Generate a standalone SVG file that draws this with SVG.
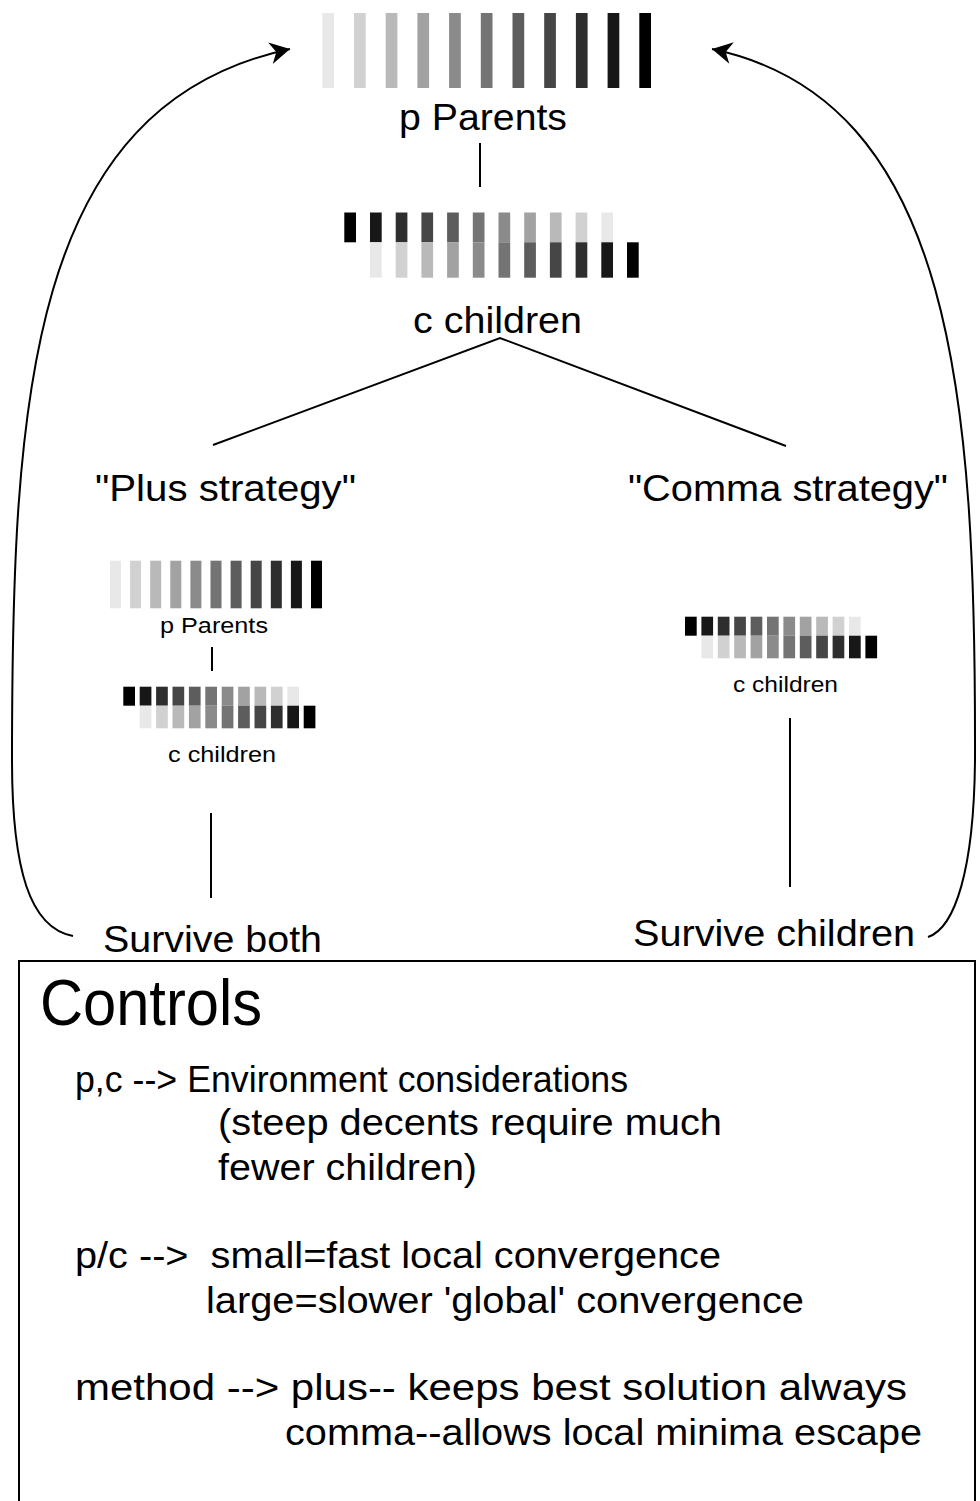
<svg xmlns="http://www.w3.org/2000/svg" width="980" height="1501" viewBox="0 0 980 1501">
  <style>
    text { font-family: "Liberation Sans", Arial, Helvetica, sans-serif; fill: #000; white-space: pre; }
    .big { font-size: 37px; }
    .small { font-size: 22px; }
    .title { font-size: 64px; }
    .body { font-size: 36px; }
    .line { stroke: #000; stroke-width: 2; fill: none; }
    .g0 { fill: #e8e8e8; } .g1 { fill: #d1d1d1; } .g2 { fill: #b9b9b9; } .g3 { fill: #a2a2a2; }
    .g4 { fill: #8b8b8b; } .g5 { fill: #747474; } .g6 { fill: #5d5d5d; } .g7 { fill: #464646; }
    .g8 { fill: #2e2e2e; } .g9 { fill: #171717; } .g10 { fill: #000000; }
  </style>
  <defs>
    <marker id="head" markerUnits="userSpaceOnUse" markerWidth="24" markerHeight="24" viewBox="-21 -12 23 24" refX="0" refY="0" orient="auto">
      <path d="M0,0 L-20,-11 L-14,0 L-20,11 Z" fill="#000"/>
    </marker>
  </defs>
  <rect width="980" height="1501" fill="#fff"/>

  <!-- parent population -->
  <g id="parents">
    <rect class="g0" x="322.3" y="13" width="11.7" height="75"/>
    <rect class="g1" x="354.0" y="13" width="11.7" height="75"/>
    <rect class="g2" x="385.7" y="13" width="11.7" height="75"/>
    <rect class="g3" x="417.4" y="13" width="11.7" height="75"/>
    <rect class="g4" x="449.1" y="13" width="11.7" height="75"/>
    <rect class="g5" x="480.8" y="13" width="11.7" height="75"/>
    <rect class="g6" x="512.5" y="13" width="11.7" height="75"/>
    <rect class="g7" x="544.2" y="13" width="11.7" height="75"/>
    <rect class="g8" x="575.9" y="13" width="11.7" height="75"/>
    <rect class="g9" x="607.6" y="13" width="11.7" height="75"/>
    <rect class="g10" x="639.3" y="13" width="11.7" height="75"/>
    <text class="big" x="399" y="130" textLength="168" lengthAdjust="spacingAndGlyphs">p Parents</text>
  </g>

  <!-- offspring population -->
  <g id="children">
    <rect class="g10" x="344.3" y="212.5" width="11.7" height="29.8"/>
    <rect class="g9" x="370.0" y="212.5" width="11.7" height="29.8"/>
    <rect class="g8" x="395.7" y="212.5" width="11.7" height="29.8"/>
    <rect class="g7" x="421.4" y="212.5" width="11.7" height="29.8"/>
    <rect class="g6" x="447.1" y="212.5" width="11.7" height="29.8"/>
    <rect class="g5" x="472.8" y="212.5" width="11.7" height="29.8"/>
    <rect class="g4" x="498.5" y="212.5" width="11.7" height="29.8"/>
    <rect class="g3" x="524.2" y="212.5" width="11.7" height="29.8"/>
    <rect class="g2" x="549.9" y="212.5" width="11.7" height="29.8"/>
    <rect class="g1" x="575.6" y="212.5" width="11.7" height="29.8"/>
    <rect class="g0" x="601.3" y="212.5" width="11.7" height="29.8"/>
    <rect class="g0" x="370.0" y="242.3" width="11.7" height="35.4"/>
    <rect class="g1" x="395.7" y="242.3" width="11.7" height="35.4"/>
    <rect class="g2" x="421.4" y="242.3" width="11.7" height="35.4"/>
    <rect class="g3" x="447.1" y="242.3" width="11.7" height="35.4"/>
    <rect class="g4" x="472.8" y="242.3" width="11.7" height="35.4"/>
    <rect class="g5" x="498.5" y="242.3" width="11.7" height="35.4"/>
    <rect class="g6" x="524.2" y="242.3" width="11.7" height="35.4"/>
    <rect class="g7" x="549.9" y="242.3" width="11.7" height="35.4"/>
    <rect class="g8" x="575.6" y="242.3" width="11.7" height="35.4"/>
    <rect class="g9" x="601.3" y="242.3" width="11.7" height="35.4"/>
    <rect class="g10" x="627.0" y="242.3" width="11.7" height="35.4"/>
    <text class="big" x="413" y="333" textLength="169" lengthAdjust="spacingAndGlyphs">c children</text>
  </g>

  <!-- plus strategy: parents and children compete together -->
  <g id="plus-strategy">
    <text class="big" x="95" y="501" textLength="261" lengthAdjust="spacingAndGlyphs">"Plus strategy"</text>
    <rect class="g0" x="110.0" y="560.7" width="11" height="47.6"/>
    <rect class="g1" x="130.1" y="560.7" width="11" height="47.6"/>
    <rect class="g2" x="150.2" y="560.7" width="11" height="47.6"/>
    <rect class="g3" x="170.3" y="560.7" width="11" height="47.6"/>
    <rect class="g4" x="190.4" y="560.7" width="11" height="47.6"/>
    <rect class="g5" x="210.5" y="560.7" width="11" height="47.6"/>
    <rect class="g6" x="230.6" y="560.7" width="11" height="47.6"/>
    <rect class="g7" x="250.7" y="560.7" width="11" height="47.6"/>
    <rect class="g8" x="270.8" y="560.7" width="11" height="47.6"/>
    <rect class="g9" x="290.9" y="560.7" width="11" height="47.6"/>
    <rect class="g10" x="311.0" y="560.7" width="11" height="47.6"/>
    <text class="small" x="160" y="633" textLength="108" lengthAdjust="spacingAndGlyphs">p Parents</text>
    <rect class="g10" x="123.3" y="686.7" width="11.7" height="19"/>
    <rect class="g9" x="139.7" y="686.7" width="11.7" height="19"/>
    <rect class="g8" x="156.1" y="686.7" width="11.7" height="19"/>
    <rect class="g7" x="172.5" y="686.7" width="11.7" height="19"/>
    <rect class="g6" x="188.9" y="686.7" width="11.7" height="19"/>
    <rect class="g5" x="205.3" y="686.7" width="11.7" height="19"/>
    <rect class="g4" x="221.7" y="686.7" width="11.7" height="19"/>
    <rect class="g3" x="238.1" y="686.7" width="11.7" height="19"/>
    <rect class="g2" x="254.5" y="686.7" width="11.7" height="19"/>
    <rect class="g1" x="270.9" y="686.7" width="11.7" height="19"/>
    <rect class="g0" x="287.3" y="686.7" width="11.7" height="19"/>
    <rect class="g0" x="139.7" y="705.7" width="11.7" height="22.6"/>
    <rect class="g1" x="156.1" y="705.7" width="11.7" height="22.6"/>
    <rect class="g2" x="172.5" y="705.7" width="11.7" height="22.6"/>
    <rect class="g3" x="188.9" y="705.7" width="11.7" height="22.6"/>
    <rect class="g4" x="205.3" y="705.7" width="11.7" height="22.6"/>
    <rect class="g5" x="221.7" y="705.7" width="11.7" height="22.6"/>
    <rect class="g6" x="238.1" y="705.7" width="11.7" height="22.6"/>
    <rect class="g7" x="254.5" y="705.7" width="11.7" height="22.6"/>
    <rect class="g8" x="270.9" y="705.7" width="11.7" height="22.6"/>
    <rect class="g9" x="287.3" y="705.7" width="11.7" height="22.6"/>
    <rect class="g10" x="303.7" y="705.7" width="11.7" height="22.6"/>
    <text class="small" x="168" y="762" textLength="108" lengthAdjust="spacingAndGlyphs">c children</text>
    <text class="big" x="103" y="952" textLength="219" lengthAdjust="spacingAndGlyphs">Survive both</text>
  </g>

  <!-- comma strategy: only children survive -->
  <g id="comma-strategy">
    <text class="big" x="628" y="501" textLength="320" lengthAdjust="spacingAndGlyphs">"Comma strategy"</text>
    <rect class="g10" x="685.0" y="616.7" width="11.7" height="19"/>
    <rect class="g9" x="701.4" y="616.7" width="11.7" height="19"/>
    <rect class="g8" x="717.8" y="616.7" width="11.7" height="19"/>
    <rect class="g7" x="734.2" y="616.7" width="11.7" height="19"/>
    <rect class="g6" x="750.6" y="616.7" width="11.7" height="19"/>
    <rect class="g5" x="767.0" y="616.7" width="11.7" height="19"/>
    <rect class="g4" x="783.4" y="616.7" width="11.7" height="19"/>
    <rect class="g3" x="799.8" y="616.7" width="11.7" height="19"/>
    <rect class="g2" x="816.2" y="616.7" width="11.7" height="19"/>
    <rect class="g1" x="832.6" y="616.7" width="11.7" height="19"/>
    <rect class="g0" x="849.0" y="616.7" width="11.7" height="19"/>
    <rect class="g0" x="701.4" y="635.7" width="11.7" height="22.6"/>
    <rect class="g1" x="717.8" y="635.7" width="11.7" height="22.6"/>
    <rect class="g2" x="734.2" y="635.7" width="11.7" height="22.6"/>
    <rect class="g3" x="750.6" y="635.7" width="11.7" height="22.6"/>
    <rect class="g4" x="767.0" y="635.7" width="11.7" height="22.6"/>
    <rect class="g5" x="783.4" y="635.7" width="11.7" height="22.6"/>
    <rect class="g6" x="799.8" y="635.7" width="11.7" height="22.6"/>
    <rect class="g7" x="816.2" y="635.7" width="11.7" height="22.6"/>
    <rect class="g8" x="832.6" y="635.7" width="11.7" height="22.6"/>
    <rect class="g9" x="849.0" y="635.7" width="11.7" height="22.6"/>
    <rect class="g10" x="865.4" y="635.7" width="11.7" height="22.6"/>
    <text class="small" x="733" y="692" textLength="105" lengthAdjust="spacingAndGlyphs">c children</text>
    <text class="big" x="633" y="946" textLength="282" lengthAdjust="spacingAndGlyphs">Survive children</text>
  </g>

  <!-- connectors -->
  <g id="connectors">
    <line class="line" x1="480" y1="143" x2="480" y2="187"/>
    <polyline class="line" points="213,445 500,338 786,446"/>
    <line class="line" x1="212" y1="647" x2="212" y2="671"/>
    <line class="line" x1="211" y1="813" x2="211" y2="898"/>
    <line class="line" x1="790" y1="718" x2="790" y2="887"/>
    <path class="line" d="M73,936 C30,928 12,870 12,760 C12,400 28,105 290,49" marker-end="url(#head)"/>
    <path class="line" d="M928,937 C955,928 974,870 975,760 C976,400 955,100 712,49" marker-end="url(#head)"/>
  </g>

  <!-- controls panel -->
  <g id="controls">
    <rect x="19" y="961" width="956" height="560" fill="none" stroke="#000" stroke-width="2"/>
    <text class="title" x="40" y="1025" textLength="222" lengthAdjust="spacingAndGlyphs">Controls</text>
    <text class="body" x="75" y="1092" textLength="553" lengthAdjust="spacingAndGlyphs">p,c --&gt; Environment considerations</text>
    <text class="body" x="218" y="1135" textLength="504" lengthAdjust="spacingAndGlyphs">(steep decents require much</text>
    <text class="body" x="218" y="1180" textLength="259" lengthAdjust="spacingAndGlyphs">fewer children)</text>
    <text class="body" x="75" y="1268" textLength="646" lengthAdjust="spacingAndGlyphs">p/c --&gt;  small=fast local convergence</text>
    <text class="body" x="206" y="1313" textLength="598" lengthAdjust="spacingAndGlyphs">large=slower 'global' convergence</text>
    <text class="body" x="75" y="1400" textLength="832" lengthAdjust="spacingAndGlyphs">method --&gt; plus-- keeps best solution always</text>
    <text class="body" x="285" y="1445" textLength="637" lengthAdjust="spacingAndGlyphs">comma--allows local minima escape</text>
  </g>
</svg>
